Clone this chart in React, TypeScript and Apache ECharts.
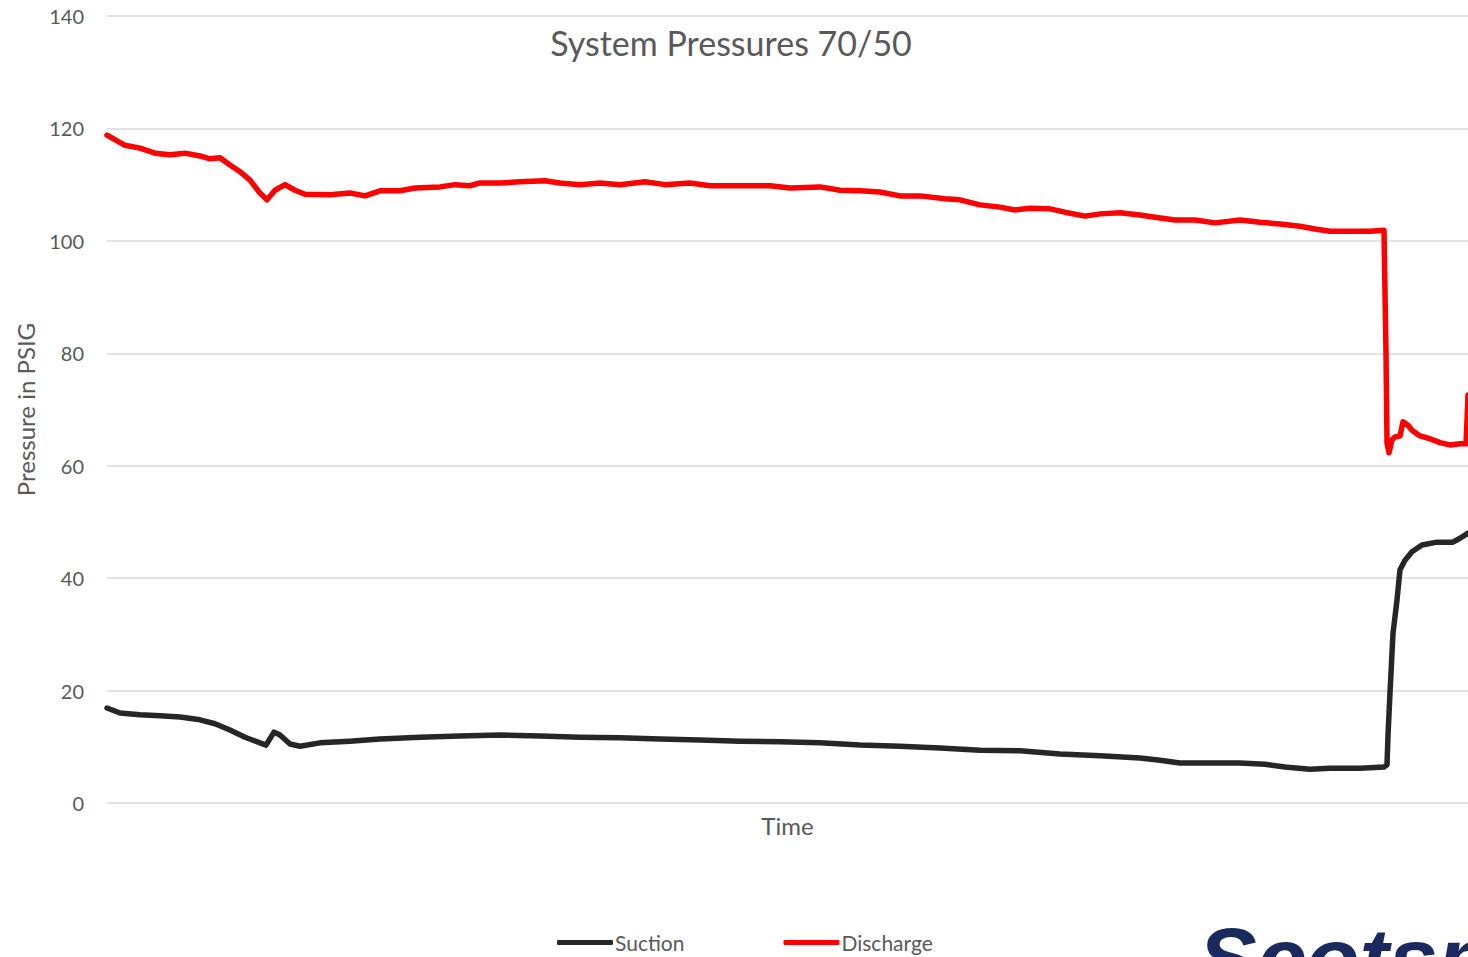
import React, { useEffect, useRef } from "react";
import * as echarts from "echarts";

// Time in sample units (arbitrary)
const dischargeTime = [0, 8, 18, 33, 48, 63, 78, 93, 103, 113, 123, 133, 143, 153, 160, 168, 178, 188, 198, 223, 243, 258, 273, 293, 308, 333, 348, 363, 373, 393, 413, 438, 453, 473, 493, 513, 538, 558, 583, 603, 633, 663, 683, 713, 733, 753, 773, 793, 813, 838, 853, 873, 893, 908, 923, 943, 958, 978, 993, 1013, 1033, 1048, 1068, 1088, 1108, 1133, 1153, 1173, 1193, 1208, 1223, 1243, 1263, 1277, 1279, 1280, 1282, 1285, 1288, 1293, 1296, 1301, 1305, 1313, 1323, 1333, 1343, 1353, 1359, 1360, 1361];
const dischargeValues = [118.8, 118, 117, 116.5, 115.6, 115.3, 115.6, 115.1, 114.6, 114.8, 113.5, 112.3, 110.8, 108.5, 107.3, 109, 110, 109, 108.3, 108.2, 108.5, 108, 108.9, 108.9, 109.4, 109.6, 110, 109.8, 110.3, 110.3, 110.5, 110.7, 110.3, 110, 110.3, 110, 110.5, 110, 110.3, 109.8, 109.8, 109.8, 109.4, 109.6, 109, 108.9, 108.7, 108, 108, 107.5, 107.3, 106.4, 106, 105.5, 105.8, 105.7, 105.1, 104.4, 104.8, 105, 104.6, 104.2, 103.7, 103.7, 103.2, 103.7, 103.3, 103, 102.6, 102.1, 101.7, 101.7, 101.7, 101.9, 80, 64, 62.3, 64.6, 65.1, 65.3, 67.8, 67.2, 66.3, 65.3, 64.8, 64.1, 63.7, 63.9, 63.9, 68, 72.6];

const suctionTime = [0, 13, 33, 53, 73, 93, 108, 123, 138, 153, 159, 167, 173, 183, 193, 213, 243, 273, 313, 353, 393, 433, 473, 513, 553, 593, 633, 673, 713, 753, 793, 833, 873, 913, 953, 993, 1033, 1053, 1073, 1093, 1133, 1158, 1178, 1203, 1223, 1253, 1277, 1280, 1281, 1283, 1286, 1290, 1293, 1298, 1305, 1315, 1330, 1346, 1353, 1361];
const suctionValues = [16.9, 16, 15.7, 15.5, 15.3, 14.8, 14.1, 13, 11.7, 10.7, 10.3, 12.6, 12.1, 10.5, 10.1, 10.7, 11, 11.4, 11.7, 11.9, 12.1, 11.9, 11.7, 11.6, 11.4, 11.2, 11, 10.9, 10.7, 10.3, 10.1, 9.8, 9.4, 9.3, 8.7, 8.4, 8, 7.6, 7.1, 7.1, 7.1, 6.9, 6.4, 6, 6.2, 6.2, 6.4, 6.8, 12, 19.6, 30.2, 36.1, 41.5, 43.2, 44.7, 45.9, 46.4, 46.4, 47.1, 48];

const yTicks = { min: 0, max: 140, interval: 20 };

const GREY = "#595959";
const FONT = "Lato, 'Open Sans', sans-serif";

export default function App() {
  const ref = useRef<HTMLDivElement>(null);
  useEffect(() => {
    document.body.style.margin = "0";
    if (!ref.current) return;
    const chart = echarts.init(ref.current, null, { renderer: "svg" });
    chart.setOption({
      animation: false,
      backgroundColor: "#ffffff",
      textStyle: { fontFamily: FONT },
      title: {
        text: "System Pressures 70/50",
        left: 726,
        top: 20,
        textAlign: "center",
        textStyle: { color: GREY, fontSize: 34, fontWeight: "normal", fontFamily: FONT },
      },
      legend: {
        left: 552,
        top: 927,
        itemWidth: 56,
        itemHeight: 5,
        itemGap: 99,
        icon: "roundRect",
        textStyle: { color: GREY, fontSize: 21, fontFamily: FONT, padding: [0, 0, 0, -3] },
        data: ["Suction", "Discharge"],
      },
      grid: { left: 107, right: 0, top: 16, bottom: 154, containLabel: false },
      xAxis: {
        type: "value",
        min: 0,
        max: 1361,
        name: "Time",
        nameLocation: "middle",
        nameGap: 10,
        nameTextStyle: { color: GREY, fontSize: 24, fontFamily: FONT },
        axisLine: { show: false },
        axisTick: { show: false },
        axisLabel: { show: false },
        splitLine: { show: false },
      },
      yAxis: {
        type: "value",
        min: yTicks.min,
        max: yTicks.max,
        interval: yTicks.interval,
        name: "Pressure in PSIG",
        nameLocation: "middle",
        nameGap: 70,
        nameTextStyle: { color: GREY, fontSize: 24, fontFamily: FONT },
        axisLine: { show: false },
        axisTick: { show: false },
        axisLabel: { color: GREY, fontSize: 20, margin: 23, fontFamily: FONT },
        splitLine: { lineStyle: { color: "#d9d9d9", width: 1.5 } },
      },
      series: [
        {
          name: "Suction",
          type: "line",
          showSymbol: false,
          symbol: "none",
          data: suctionTime.map((t, i) => [t, suctionValues[i]]),
          lineStyle: { color: "#262626", width: 5.5, cap: "round", join: "round" },
          itemStyle: { color: "#262626" },
        },
        {
          name: "Discharge",
          type: "line",
          showSymbol: false,
          symbol: "none",
          data: dischargeTime.map((t, i) => [t, dischargeValues[i]]),
          lineStyle: { color: "#ff0000", width: 5.5, cap: "round", join: "round" },
          itemStyle: { color: "#ff0000" },
        },
      ],
      graphic: [
        {
          type: "text",
          left: 1198,
          top: 914,
          style: {
            text: "Scotsman",
            fill: "#1b2a5e",
            font: "italic bold 88px 'Liberation Sans', Arial, sans-serif",
          },
        },
      ],
    });
    return () => chart.dispose();
  }, []);
  return <div ref={ref} style={{ width: 1468, height: 957 }} />;
}
